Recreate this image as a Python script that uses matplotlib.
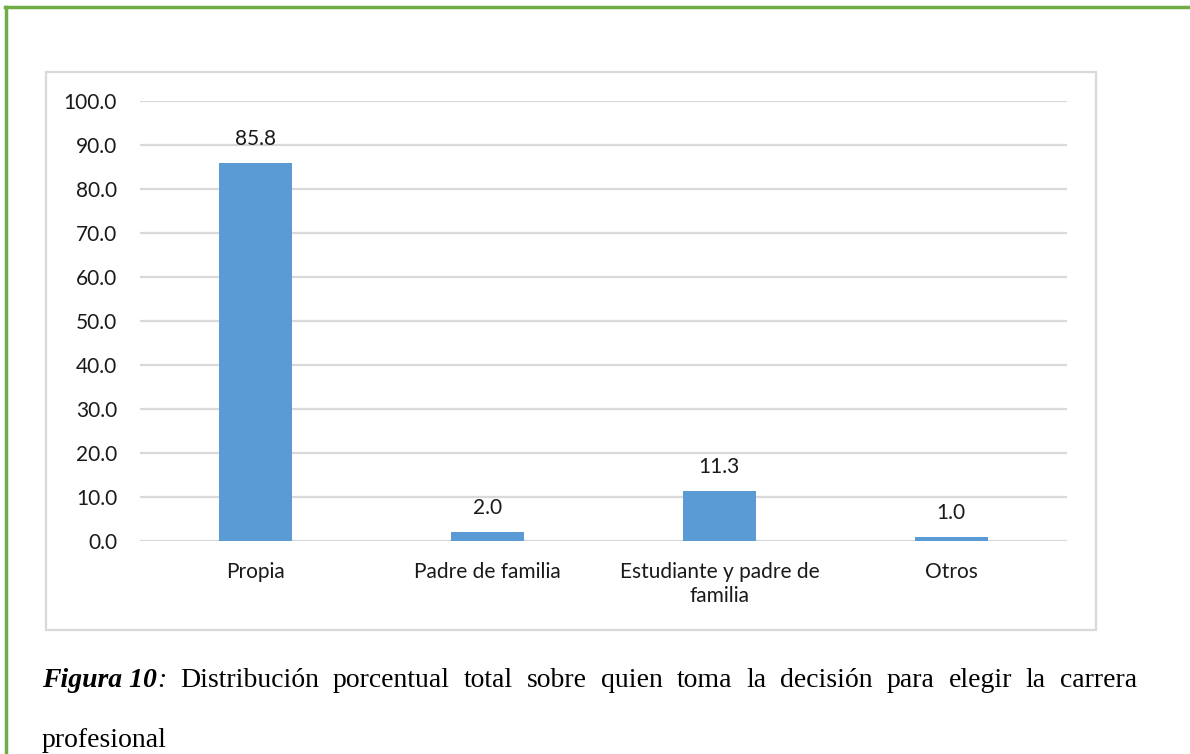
import matplotlib.pyplot as plt
from matplotlib.patches import Rectangle
from matplotlib.lines import Line2D

categorias = ["Propia", "Padre de familia", "Estudiante y padre de\nfamilia", "Otros"]
porcentajes = [85.8, 2.0, 11.3, 1.0]
yticks = [0, 10, 20, 30, 40, 50, 60, 70, 80, 90, 100]

W, H = 1190, 754
fig = plt.figure(figsize=(W / 100, H / 100), dpi=100)
plt.rcParams['font.family'] = ['Lato', 'DejaVu Sans']

# marco verde (arriba e izquierda)
fig.add_artist(Line2D([5 / W, 1], [1 - 6.5 / H, 1 - 6.5 / H], color="#70ad47", lw=2.5,
                      transform=fig.transFigure))
fig.add_artist(Line2D([6 / W, 6 / W], [0, 1 - 6.5 / H], color="#70ad47", lw=2.5,
                      transform=fig.transFigure))

# borde del area del grafico
fig.add_artist(Rectangle((46 / W, 1 - 630 / H), (1096 - 46) / W, (630 - 72) / H,
                         fill=False, edgecolor="#d9d9d9", lw=1.6, transform=fig.transFigure))

ax = fig.add_axes([140 / W, 1 - 541 / H, (1067 - 140) / W, (541 - 101) / H])
x = range(len(categorias))
bars = ax.bar(x, porcentajes, width=0.315, color="#5b9bd5", zorder=3)
for b, v in zip(bars, porcentajes):
    ax.annotate(f"{v:.1f}", (b.get_x() + b.get_width() / 2, v), xytext=(0, 13),
                textcoords="offset points", ha="center", va="baseline", fontsize=15, color="#1a1a1a")

ax.set_xlim(-0.5, len(categorias) - 0.5)
ax.set_ylim(0, 100)
ax.set_yticks(yticks)
ax.set_yticklabels([f"{t:.1f}" for t in yticks], fontsize=15, color="#1a1a1a")
ax.set_xticks(list(x))
ax.set_xticklabels(categorias, fontsize=15, color="#1a1a1a", linespacing=1.25)
ax.tick_params(axis="y", length=0, pad=16.5)
ax.tick_params(axis="x", length=0, pad=15)
ax.grid(axis="y", color="#d9d9d9", lw=1.6, zorder=0)
for s in ax.spines.values():
    s.set_visible(False)

# pie de figura justificado
serif = "Liberation Serif"
fs = 20
y1 = 1 - 687 / H
left, right = 42 / W, 1137 / W
rest = "Distribución porcentual total sobre quien toma la decisión para elegir la carrera".split()
fig.canvas.draw()
rend = fig.canvas.get_renderer()


def put(s, xpos, weight="normal", style="normal"):
    t = fig.text(xpos, y1, s, family=serif, fontsize=fs, weight=weight, style=style,
                 ha="left", va="baseline", color="black")
    return t.get_window_extent(rend).width / W


def measure(s, weight="normal", style="normal"):
    t = fig.text(0, 0, s, family=serif, fontsize=fs, weight=weight, style=style)
    w = t.get_window_extent(rend).width / W
    t.remove()
    return w


w_fig = put("Figura 10", left, "bold", "italic")
w_colon = measure(":", style="italic")
put(":", left + w_fig, "normal", "italic")
widths = [measure(w) for w in rest]
first_w = w_fig + w_colon
gap = (right - left - first_w - sum(widths)) / len(rest)
xpos = left + first_w + gap
for w, wd in zip(rest, widths):
    put(w, xpos)
    xpos += wd + gap

fig.text(left, 1 - 747 / H, "profesional", family=serif, fontsize=fs, ha="left", va="baseline")

fig.savefig("out.png", dpi=100)
